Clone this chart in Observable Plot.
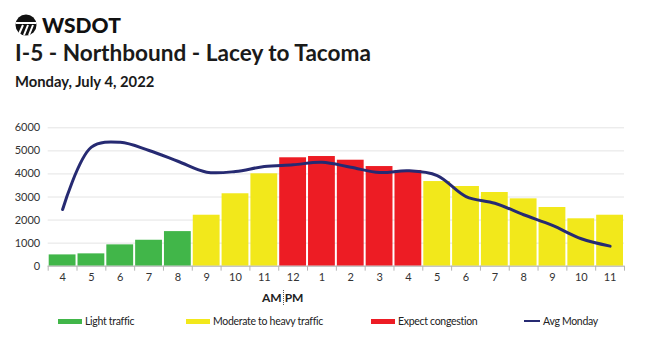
<!DOCTYPE html>
<html><head><meta charset="utf-8">
<script src="https://cdn.jsdelivr.net/npm/d3@7"></script>
<script src="https://cdn.jsdelivr.net/npm/@observablehq/plot@0.6"></script>
<style>
body{margin:0;background:#fff;font-family:Lato,"Open Sans",sans-serif;color:#1a1a1a}
#wrap{position:relative;width:650px;height:337px;overflow:hidden}
.abs{position:absolute;white-space:nowrap}
#logo{left:15px;top:12px;display:flex;align-items:center}
#logo span{font-weight:900;font-size:21px;letter-spacing:0px;margin-left:5px;color:#111}
#title{left:15px;top:39px;font-weight:700;font-size:22.6px;color:#1a1a1a}
#sub{left:15px;top:72px;font-weight:700;font-size:14.8px;color:#1a1a1a}
#chart{left:0;top:110px}
#ampm{left:262px;top:290px;font-size:12px;font-weight:700;color:#222}
.leg{top:315px;font-size:10.5px;letter-spacing:-0.3px;display:flex;align-items:center;color:#222}
.sw{display:inline-block;width:24px;height:5px;margin-right:3px}
</style></head>
<body><div id="wrap">
<div id="logo" class="abs"><svg width="22" height="22" viewBox="0 0 22 22"><circle cx="11" cy="11" r="10.5" fill="#111"/><path d="M1 9 H21" stroke="#fff" stroke-width="2"/><path d="M8 11 L4 20 M13 11 L9 21 M18 11 L14 21" stroke="#fff" stroke-width="2"/></svg><span>WSDOT</span></div>
<div id="title" class="abs">I-5 - Northbound - Lacey to Tacoma</div>
<div id="sub" class="abs">Monday, July 4, 2022</div>
<div id="chart" class="abs"></div>
<div id="ampm" class="abs">AM<span style="border-left:1px dotted #555;margin:0 1px"></span>PM</div>
<div class="abs leg" style="left:58px"><span class="sw" style="background:#41b649"></span>Light traffic</div>
<div class="abs leg" style="left:186px"><span class="sw" style="background:#f2e81b"></span>Moderate to heavy traffic</div>
<div class="abs leg" style="left:371px"><span class="sw" style="background:#ed1c24"></span>Expect congestion</div>
<div class="abs leg" style="left:524px"><span class="sw" style="background:#262a72;height:2.5px;width:16px"></span>Avg Monday</div>
</div>
<script>
const hours = ["4","5","6","7","8","9","10","11","12","1","2","3","4","5","6","7","8","9","10","11"];
const volumes = [490, 535, 925, 1125, 1500, 2210, 3140, 4005, 4700, 4755, 4595, 4320, 4150, 3670, 3455, 3195, 2920, 2545, 2055, 2210];
const levels = ["light","light","light","light","light","moderate","moderate","moderate","heavy","heavy","heavy","heavy","heavy","moderate","moderate","moderate","moderate","moderate","moderate","moderate"];
const avgMonday = [2460, 5160, 5375, 5015, 4550, 4075, 4105, 4320, 4395, 4505, 4290, 4060, 4135, 3930, 3020, 2730, 2230, 1765, 1190, 870];
const levelColors = {light:"#41b649", moderate:"#f2e81b", heavy:"#ed1c24"};
const yTicks = [0,1000,2000,3000,4000,5000,6000];

const data = hours.map((h,i)=>({i, h, v: volumes[i], lvl: levels[i], avg: avgMonday[i]}));

const chart = Plot.plot({
  width: 650, height: 180,
  marginLeft: 47.7, marginRight: 26, marginTop: 17.3, marginBottom: 24.3,
  style: {fontFamily: "Lato, sans-serif", fontSize: "11px", color: "#333"},
  x: {domain: [0, hours.length], axis: null},
  y: {domain: [0, 6000], axis: null},
  marks: [
    Plot.gridY(yTicks, {stroke: "#e4e4e4", strokeOpacity: 1}),
    Plot.axisY(yTicks, {tickSize: 0, tickPadding: 8, label: null, tickFormat: d => String(d), fontSize: 11}),
    Plot.rectY(data, {x1: d => d.i, x2: d => d.i + 1, y: "v", fill: d => levelColors[d.lvl], insetLeft: 1, insetRight: 1}),
    Plot.ruleY([0], {stroke: "#b5b5b5"}),
    Plot.axisX(d3.range(hours.length + 1), {tickSize: 5, tickFormat: () => "", stroke: "#b5b5b5", label: null}),
    Plot.axisX(d3.range(hours.length).map(i => i + 0.5), {tickSize: 0, tickPadding: 7, tickFormat: d => hours[Math.floor(d)], label: null, fontSize: 11}),
    Plot.line(data, {x: d => d.i + 0.5, y: "avg", curve: "catmull-rom", stroke: "#262a72", strokeWidth: 3})
  ]
});
document.getElementById("chart").appendChild(chart);
</script>
</body></html>
